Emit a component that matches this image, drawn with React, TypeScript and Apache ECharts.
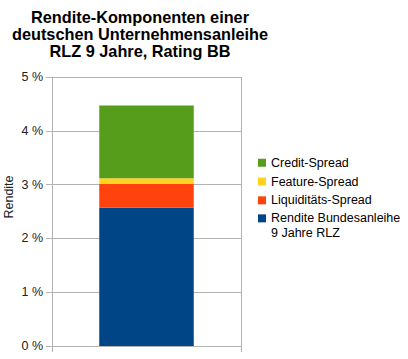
import React, { useEffect, useRef } from "react";
import * as echarts from "echarts";

const categories = [""];
const seriesNames = [
  "Rendite Bundesanleihe\n9 Jahre RLZ",
  "Liquiditäts-Spread",
  "Feature-Spread",
  "Credit-Spread",
];
const bundValues = [2.57];
const liquidityValues = [0.44];
const featureValues = [0.11];
const creditValues = [1.35];
const yTicks = [0, 1, 2, 3, 4, 5];
const colors = ["#004586", "#ff420e", "#ffd320", "#579d1c"];
const titleLines = [
  "Rendite-Komponenten einer",
  "deutschen Unternehmensanleihe",
  "RLZ 9 Jahre, Rating BB",
];
const yAxisName = "Rendite";

const FONT = "'Liberation Sans', Arial, sans-serif";
const GRID = "#b3b3b3";

export default function App() {
  const ref = useRef<HTMLDivElement>(null);
  useEffect(() => {
    if (!ref.current) return;
    const chart = echarts.init(ref.current, undefined, { renderer: "svg" });
    const values = [bundValues, liquidityValues, featureValues, creditValues];
    const legendBase = {
      orient: "vertical",
      left: 258,
      padding: 0,
      itemWidth: 8,
      itemHeight: 8,
      itemGap: 4.3,
      icon: "rect",
      textStyle: {
        fontFamily: FONT,
        fontSize: 12.5,
        lineHeight: 14.5,
        color: "#000",
      },
    };
    chart.setOption({
      animation: false,
      textStyle: { fontFamily: FONT },
      title: {
        text: titleLines.join("\n"),
        left: 140,
        top: 8,
        textAlign: "center",
        padding: 0,
        textStyle: {
          fontFamily: FONT,
          fontSize: 16.3,
          fontWeight: "bold",
          lineHeight: 17.3,
          color: "#000",
        },
      },
      legend: [
        {
          ...legendBase,
          top: 155.5,
          data: [seriesNames[3], seriesNames[2], seriesNames[1]],
        },
        {
          ...legendBase,
          top: 196.6,
          formatter: (name: string) => "\n" + name,
          data: [seriesNames[0]],
        },
      ],
      grid: { left: 52, right: 167, top: 77, bottom: 13, containLabel: false },
      xAxis: {
        type: "category",
        data: categories,
        axisLine: { show: true, lineStyle: { color: GRID, width: 1 } },
        axisTick: { show: true, length: 6, lineStyle: { color: GRID } },
        axisLabel: { show: false },
        splitLine: { show: true, lineStyle: { color: GRID, width: 1 } },
      },
      yAxis: {
        type: "value",
        min: yTicks[0],
        max: yTicks[yTicks.length - 1],
        interval: 1,
        axisLine: { show: true, lineStyle: { color: GRID, width: 1 } },
        axisTick: { show: true, length: 6, lineStyle: { color: GRID } },
        axisLabel: {
          formatter: "{value} %",
          margin: 9,
          fontFamily: FONT,
          fontSize: 12.5,
          color: "#222",
        },
        splitLine: { show: true, lineStyle: { color: GRID, width: 1 } },
      },
      graphic: [
        {
          type: "text",
          x: 9,
          y: 197,
          rotation: Math.PI / 2,
          style: {
            text: yAxisName,
            align: "center",
            verticalAlign: "middle",
            fontFamily: FONT,
            fontSize: 12.5,
            fill: "#222",
          },
        },
      ],
      series: seriesNames.map((name, i) => ({
        name,
        type: "bar",
        stack: "total",
        barWidth: "50%",
        data: values[i],
        itemStyle: { color: colors[i] },
      })),
    });
    return () => chart.dispose();
  }, []);
  return <div ref={ref} style={{ width: 408, height: 359, position: "absolute", left: 0, top: 0 }} />;
}
